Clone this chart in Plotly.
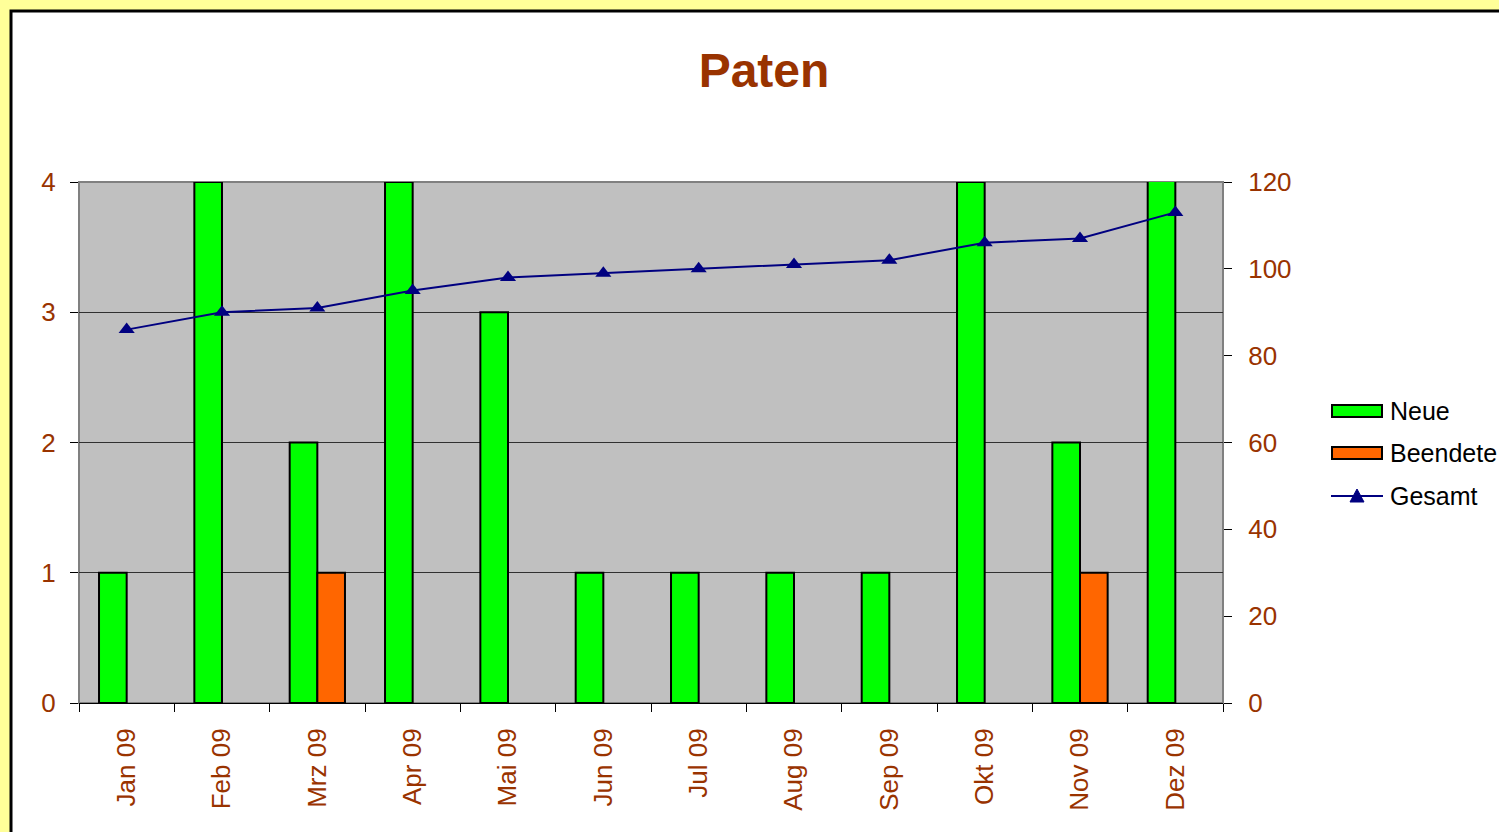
import plotly.graph_objects as go

months = ["Jan 09", "Feb 09", "Mrz 09", "Apr 09", "Mai 09", "Jun 09",
          "Jul 09", "Aug 09", "Sep 09", "Okt 09", "Nov 09", "Dez 09"]
neue = [1, 4, 2, 4, 3, 1, 1, 1, 1, 4, 2, 6]
beendete = [0, 0, 1, 0, 0, 0, 0, 0, 0, 0, 1, 0]
gesamt = [86, 90, 91, 95, 98, 99, 100, 101, 102, 106, 107, 113]

W, H = 1499, 832
L, R, T, B = 79, 1223, 182, 703
pw, ph = R - L, B - T

TXT = "#993300"
FONT = "Liberation Sans, Arial, sans-serif"
GREEN, ORANGE, NAVY = "#00FF00", "#FF6600", "#000080"

fig = go.Figure()
fig.add_trace(go.Bar(x=months, y=[v if v else None for v in neue], name="Neue",
                     showlegend=False,
                     marker=dict(color=GREEN, line=dict(color="black", width=2))))
fig.add_trace(go.Bar(x=months, y=[v if v else None for v in beendete], name="Beendete",
                     showlegend=False,
                     marker=dict(color=ORANGE, line=dict(color="black", width=2))))
fig.add_trace(go.Scatter(x=months, y=gesamt, name="Gesamt", yaxis="y2",
                         mode="lines+markers", showlegend=False,
                         line=dict(color=NAVY, width=2),
                         marker=dict(symbol="triangle-up", size=14, color=NAVY)))

def px_x(p):
    return (p - L) / pw

def px_y(p):
    return (B - p) / ph

shapes = [
    dict(type="rect", xref="paper", yref="paper", layer="below",
         x0=px_x(11), x1=px_x(1530), y0=px_y(860), y1=px_y(11),
         fillcolor="white", line=dict(color="black", width=3)),
    dict(type="rect", xref="paper", yref="paper", layer="below",
         x0=0, x1=1, y0=0, y1=1,
         fillcolor="#C0C0C0", line=dict(color="#808080", width=2)),
]

# manual legend (Excel style wide swatches)
legend_items = [("Neue", GREEN, 411), ("Beendete", ORANGE, 453)]
annotations = []
for name, col, yc in legend_items:
    shapes.append(dict(type="rect", xref="paper", yref="paper", layer="above",
                       x0=px_x(1332), x1=px_x(1382), y0=px_y(yc + 6), y1=px_y(yc - 6),
                       fillcolor=col, line=dict(color="black", width=2)))
    annotations.append(dict(text=name, xref="paper", yref="paper", x=px_x(1388),
                            y=px_y(yc), xanchor="left", yanchor="middle", showarrow=False,
                            font=dict(size=25, color="black", family=FONT)))
yg = 496
shapes.append(dict(type="line", xref="paper", yref="paper", layer="above",
                   x0=px_x(1331), x1=px_x(1383), y0=px_y(yg), y1=px_y(yg),
                   line=dict(color=NAVY, width=2)))
tx, ty = 1357, yg
shapes.append(dict(type="path", xref="paper", yref="paper", layer="above",
                   path=f"M {px_x(tx-7)},{px_y(ty+6)} L {px_x(tx+7)},{px_y(ty+6)} L {px_x(tx)},{px_y(ty-7)} Z",
                   fillcolor=NAVY, line=dict(color=NAVY, width=1)))
annotations.append(dict(text="Gesamt", xref="paper", yref="paper", x=px_x(1388),
                        y=px_y(yg), xanchor="left", yanchor="middle", showarrow=False,
                        font=dict(size=25, color="black", family=FONT)))

fig.update_layout(
    width=W, height=H,
    margin=dict(l=L, r=W - R, t=T, b=H - B, pad=0),
    paper_bgcolor="#FFFF99",
    plot_bgcolor="#C0C0C0",
    font=dict(family=FONT, color=TXT, size=26),
    title=dict(text="<b>Paten</b>", x=764 / W, xanchor="center",
               y=1 - 70 / H, yanchor="middle", xref="container", yref="container",
               font=dict(size=48, color=TXT, family=FONT)),
    barmode="group", bargap=0.42, bargroupgap=0,
    shapes=shapes, annotations=annotations,
    showlegend=False,
    xaxis=dict(type="category", range=[-0.5, 11.5], tickangle=-90, tickson="boundaries",
               ticks="outside", ticklen=8, tickcolor="black", tickwidth=1,
               showline=True, linecolor="black", linewidth=1,
               showgrid=False, ticklabelstandoff=14,
               tickfont=dict(size=26, color=TXT)),
    yaxis=dict(range=[0, 4], dtick=1, ticks="outside", ticklen=8, tickcolor="black",
               showgrid=True, gridcolor="#303030", gridwidth=1,
               showline=False, zeroline=False, ticklabelstandoff=9,
               tickfont=dict(size=26, color=TXT)),
    yaxis2=dict(range=[0, 120], dtick=20, overlaying="y", side="right",
                ticks="outside", ticklen=8, tickcolor="black",
                showgrid=False, zeroline=False, showline=False, ticklabelstandoff=11,
                tickfont=dict(size=26, color=TXT)),
)

fig.write_html("out.html", config={"displayModeBar": False},
               post_script="document.body.style.margin='0';")
